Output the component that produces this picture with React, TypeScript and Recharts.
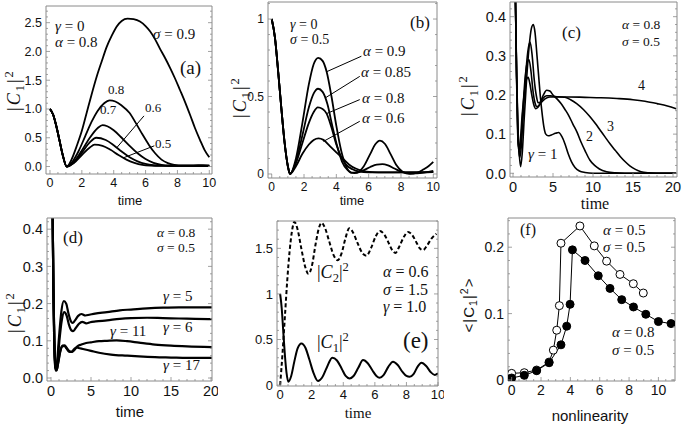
import React from "react";
import { LineChart, Line, XAxis, YAxis, ReferenceLine } from "recharts";

type Pt = [number, number];

// (a) gamma = 0, alpha = 0.8, sigma = 0.9 ... 0.5
const A_S09: Pt[] = [[0, 1], [0.2, 0.9], [0.4, 0.7], [0.6, 0.45], [0.8, 0.2], [1.05, 0], [1.35, 0.12], [1.67, 0.35], [2.0, 0.62], [2.3, 0.93], [2.6, 1.24], [2.93, 1.56], [3.25, 1.83], [3.56, 2.08], [3.87, 2.27], [4.18, 2.43], [4.5, 2.53], [4.87, 2.57], [5.25, 2.56], [5.65, 2.52], [6.0, 2.44], [6.28, 2.35], [6.6, 2.21], [6.9, 2.05], [7.2, 1.9], [7.53, 1.72], [7.85, 1.53], [8.16, 1.33], [8.48, 1.12], [8.79, 0.9], [9.1, 0.67], [9.42, 0.46], [9.7, 0.29], [10, 0.16]];
const A_S08: Pt[] = [[0, 1], [0.2, 0.9], [0.4, 0.7], [0.6, 0.45], [0.8, 0.2], [1.05, 0], [1.4, 0.08], [1.8, 0.27], [2.2, 0.52], [2.6, 0.77], [3.0, 0.97], [3.4, 1.1], [3.75, 1.15], [4.1, 1.13], [4.5, 1.06], [5.0, 0.93], [5.4, 0.75], [5.8, 0.56], [6.2, 0.38], [6.6, 0.23], [7.0, 0.12], [7.4, 0.06], [7.8, 0.03], [8.3, 0.02], [9.0, 0.02], [9.6, 0.025], [10, 0.02]];
const A_S07: Pt[] = [[0, 1], [0.2, 0.9], [0.4, 0.7], [0.6, 0.45], [0.8, 0.2], [1.05, 0], [1.5, 0.08], [2.0, 0.28], [2.5, 0.5], [3.0, 0.67], [3.3, 0.72], [3.6, 0.7], [4.0, 0.63], [4.5, 0.5], [5.0, 0.36], [5.5, 0.23], [6.0, 0.13], [6.5, 0.065], [7.0, 0.03], [7.5, 0.018], [8.5, 0.015], [10, 0.012]];
const A_S06: Pt[] = [[0, 1], [0.2, 0.9], [0.4, 0.7], [0.6, 0.45], [0.8, 0.2], [1.05, 0], [1.5, 0.07], [2.0, 0.24], [2.5, 0.42], [2.9, 0.5], [3.5, 0.46], [4.0, 0.37], [4.5, 0.26], [5.0, 0.16], [5.5, 0.09], [6.0, 0.045], [6.5, 0.022], [7.0, 0.014], [8.5, 0.01], [10, 0.01]];
const A_S05: Pt[] = [[0, 1], [0.2, 0.9], [0.4, 0.7], [0.6, 0.45], [0.8, 0.2], [1.05, 0], [1.5, 0.06], [2.0, 0.2], [2.5, 0.33], [2.8, 0.38], [3.3, 0.36], [3.8, 0.29], [4.3, 0.2], [4.8, 0.12], [5.3, 0.065], [5.8, 0.03], [6.3, 0.016], [7.0, 0.01], [10, 0.008]];
const A_LEADERS: [Pt, Pt][] = [[[5.9, 0.88], [4.2, 0.33]], [[6.55, 0.36], [4.6, 0.15]]];

// (b) gamma = 0, sigma = 0.5, alpha = 0.9 ... 0.6
const B_A09: Pt[] = [[0, 1], [0.2, 0.88], [0.4, 0.66], [0.6, 0.42], [0.8, 0.2], [1.0, 0.05], [1.13, 0], [1.5, 0.1], [1.9, 0.33], [2.3, 0.58], [2.6, 0.71], [2.88, 0.75], [3.15, 0.73], [3.4, 0.66], [3.7, 0.5], [4.0, 0.31], [4.3, 0.15], [4.6, 0.05], [4.9, 0.008], [5.3, 0.01], [5.7, 0.05], [6.1, 0.13], [6.4, 0.19], [6.7, 0.215], [7.0, 0.195], [7.35, 0.13], [7.7, 0.06], [8.1, 0.015], [8.55, 0], [9.0, 0.008], [9.4, 0.03], [9.7, 0.05], [10, 0.078]];
const B_A085: Pt[] = [[0, 1], [0.2, 0.88], [0.4, 0.66], [0.6, 0.42], [0.8, 0.2], [1.0, 0.05], [1.13, 0], [1.5, 0.08], [1.9, 0.25], [2.3, 0.43], [2.6, 0.52], [2.87, 0.55], [3.15, 0.53], [3.45, 0.45], [3.75, 0.31], [4.05, 0.18], [4.35, 0.08], [4.7, 0.025], [5.1, 0.005], [5.6, 0.02], [6.1, 0.045], [6.5, 0.06], [6.85, 0.063], [7.2, 0.055], [7.6, 0.035], [8.0, 0.015], [8.5, 0.004], [9.0, 0.004], [9.5, 0.01], [10, 0.02]];
const B_A08: Pt[] = [[0, 1], [0.2, 0.88], [0.4, 0.66], [0.6, 0.42], [0.8, 0.2], [1.0, 0.05], [1.13, 0], [1.5, 0.07], [1.9, 0.2], [2.3, 0.33], [2.6, 0.4], [2.85, 0.43], [3.15, 0.42], [3.4, 0.39], [3.7, 0.3], [4.0, 0.19], [4.3, 0.11], [4.6, 0.06], [5.0, 0.03], [5.4, 0.016], [6.0, 0.011], [7.5, 0.01], [10, 0.012]];
const B_A06: Pt[] = [[0, 1], [0.2, 0.88], [0.4, 0.66], [0.6, 0.42], [0.8, 0.2], [1.0, 0.05], [1.13, 0], [1.5, 0.05], [1.9, 0.13], [2.3, 0.19], [2.6, 0.22], [2.9, 0.23], [3.2, 0.22], [3.6, 0.18], [4.0, 0.14], [4.4, 0.1], [4.8, 0.06], [5.2, 0.035], [5.6, 0.02], [6.2, 0.012], [7.0, 0.01], [8.5, 0.01], [10, 0.012]];
const B_LEADERS: [Pt, Pt][] = [[[5.55, 0.76], [3.4, 0.66]], [[5.45, 0.63], [3.3, 0.49]], [[5.45, 0.48], [3.4, 0.39]], [[5.45, 0.34], [3.2, 0.21]]];

// (c) alpha = 0.8, sigma = 0.5, gamma = 1 ... 4
const C_G1: Pt[] = [[0, 1], [0.15, 0.72], [0.3, 0.45], [0.45, 0.26], [0.6, 0.13], [0.75, 0.06], [0.95, 0.017], [1.15, 0.05], [1.4, 0.14], [1.7, 0.24], [2.0, 0.32], [2.3, 0.37], [2.54, 0.38], [2.75, 0.36], [3.0, 0.3], [3.2, 0.25], [3.4, 0.2], [3.6, 0.16], [3.85, 0.12], [4.1, 0.1], [4.4, 0.096], [4.8, 0.098], [5.3, 0.102], [5.7, 0.104], [6.1, 0.094], [6.5, 0.075], [6.9, 0.05], [7.3, 0.03], [7.75, 0.015], [8.3, 0.006], [9.0, 0.002], [10, 0], [20.4, 0]];
const C_G2: Pt[] = [[0, 1], [0.15, 0.72], [0.3, 0.45], [0.45, 0.25], [0.6, 0.12], [0.72, 0.06], [0.85, 0.04], [1.0, 0.06], [1.25, 0.14], [1.55, 0.24], [1.85, 0.31], [2.13, 0.335], [2.4, 0.3], [2.65, 0.24], [2.9, 0.2], [3.15, 0.18], [3.4, 0.182], [3.8, 0.2], [4.2, 0.212], [4.6, 0.21], [5.0, 0.2], [5.5, 0.19], [6.0, 0.178], [6.5, 0.163], [6.9, 0.15], [7.5, 0.125], [8.0, 0.105], [8.5, 0.08], [9.0, 0.058], [9.6, 0.034], [10.2, 0.02], [10.8, 0.011], [11.7, 0.004], [12.8, 0.001], [14, 0], [20.4, 0]];
const C_G3: Pt[] = [[0, 1], [0.15, 0.72], [0.3, 0.45], [0.45, 0.25], [0.58, 0.12], [0.7, 0.065], [0.8, 0.055], [0.95, 0.07], [1.2, 0.15], [1.5, 0.24], [1.75, 0.28], [2.0, 0.29], [2.25, 0.26], [2.5, 0.21], [2.75, 0.18], [3.0, 0.17], [3.3, 0.175], [3.7, 0.19], [4.2, 0.198], [4.7, 0.198], [5.3, 0.196], [6.0, 0.195], [6.5, 0.194], [7.2, 0.188], [7.96, 0.178], [8.8, 0.163], [9.6, 0.145], [10.3, 0.127], [10.9, 0.11], [11.5, 0.093], [12.1, 0.076], [12.8, 0.058], [13.4, 0.043], [14.0, 0.03], [14.6, 0.019], [15.3, 0.01], [16.0, 0.004], [17, 0.001], [18, 0], [20.4, 0]];
const C_G4: Pt[] = [[0, 1], [0.15, 0.72], [0.3, 0.45], [0.45, 0.24], [0.56, 0.12], [0.65, 0.075], [0.75, 0.065], [0.9, 0.08], [1.15, 0.15], [1.45, 0.21], [1.7, 0.24], [1.9, 0.245], [2.1, 0.23], [2.35, 0.2], [2.6, 0.175], [2.85, 0.165], [3.1, 0.168], [3.5, 0.18], [4.0, 0.19], [4.6, 0.195], [5.5, 0.195], [7, 0.195], [9, 0.194], [11, 0.193], [13, 0.191], [15, 0.188], [16.5, 0.184], [18, 0.178], [19.3, 0.172], [20.4, 0.165]];

// (d) alpha = 0.8, sigma = 0.5, gamma = 5, 6, 11, 17
const D_G5: Pt[] = [[0, 1], [0.1, 0.72], [0.2, 0.45], [0.3, 0.24], [0.4, 0.1], [0.5, 0.035], [0.6, 0.02], [0.75, 0.04], [1.0, 0.11], [1.3, 0.18], [1.6, 0.207], [1.9, 0.2], [2.2, 0.172], [2.5, 0.152], [2.7, 0.148], [3.0, 0.155], [3.4, 0.167], [3.8, 0.172], [4.3, 0.168], [4.8, 0.17], [5.5, 0.173], [7, 0.177], [8.6, 0.182], [10, 0.184], [12, 0.187], [14, 0.189], [16, 0.19], [18, 0.19], [20.1, 0.19]];
const D_G6: Pt[] = [[0, 1], [0.1, 0.72], [0.2, 0.45], [0.3, 0.24], [0.4, 0.1], [0.5, 0.04], [0.62, 0.022], [0.8, 0.04], [1.05, 0.1], [1.35, 0.155], [1.65, 0.177], [1.95, 0.168], [2.25, 0.143], [2.55, 0.128], [2.75, 0.126], [3.05, 0.133], [3.5, 0.146], [3.9, 0.151], [4.4, 0.147], [4.9, 0.15], [5.6, 0.152], [7, 0.155], [8.6, 0.159], [10, 0.161], [12, 0.162], [14, 0.161], [16, 0.16], [18, 0.159], [20.1, 0.158]];
const D_G11: Pt[] = [[0, 1], [0.1, 0.72], [0.2, 0.45], [0.3, 0.24], [0.42, 0.1], [0.55, 0.035], [0.7, 0.02], [0.9, 0.04], [1.15, 0.07], [1.45, 0.087], [1.7, 0.088], [2.0, 0.08], [2.3, 0.072], [2.6, 0.07], [2.9, 0.075], [3.3, 0.085], [3.8, 0.09], [4.4, 0.094], [5, 0.096], [6, 0.099], [7, 0.1], [8.2, 0.101], [9.5, 0.099], [11, 0.095], [13, 0.09], [15, 0.087], [17, 0.085], [20.1, 0.083]];
const D_G17: Pt[] = [[0, 1], [0.1, 0.72], [0.2, 0.45], [0.3, 0.24], [0.42, 0.1], [0.55, 0.035], [0.72, 0.022], [0.92, 0.045], [1.15, 0.072], [1.4, 0.085], [1.65, 0.086], [1.95, 0.079], [2.25, 0.071], [2.55, 0.07], [2.9, 0.078], [3.2, 0.082], [3.6, 0.08], [4.0, 0.078], [5, 0.073], [6, 0.068], [7.5, 0.063], [9.5, 0.06], [11, 0.058], [13, 0.056], [15, 0.055], [17, 0.054], [20.1, 0.054]];

// (e) alpha = 0.6, sigma = 1.5, gamma = 1.0
const E_C1: Pt[] = [[0, 1], [0.1, 0.84], [0.2, 0.58], [0.3, 0.33], [0.4, 0.14], [0.52, 0.037], [0.7, 0.1], [0.9, 0.26], [1.1, 0.4], [1.35, 0.457], [1.6, 0.41], [1.85, 0.28], [2.1, 0.14], [2.4, 0.044], [2.65, 0.08], [2.95, 0.19], [3.3, 0.3], [3.6, 0.27], [3.9, 0.18], [4.15, 0.1], [4.4, 0.073], [4.65, 0.1], [4.95, 0.19], [5.25, 0.274], [5.55, 0.24], [5.85, 0.16], [6.1, 0.1], [6.3, 0.08], [6.55, 0.11], [6.85, 0.2], [7.15, 0.256], [7.45, 0.22], [7.75, 0.145], [8.0, 0.1], [8.2, 0.091], [8.45, 0.12], [8.7, 0.2], [8.95, 0.245], [9.25, 0.21], [9.55, 0.14], [9.8, 0.112], [10, 0.13]];
const E_C2: Pt[] = [[0, 0], [0.15, 0.35], [0.3, 0.75], [0.45, 1.15], [0.6, 1.47], [0.75, 1.69], [0.9, 1.79], [1.1, 1.71], [1.35, 1.49], [1.6, 1.29], [1.79, 1.22], [2.0, 1.3], [2.25, 1.55], [2.45, 1.72], [2.63, 1.78], [2.85, 1.72], [3.1, 1.58], [3.4, 1.42], [3.64, 1.37], [3.9, 1.45], [4.15, 1.62], [4.38, 1.72], [4.6, 1.68], [4.9, 1.56], [5.2, 1.45], [5.47, 1.42], [5.75, 1.5], [6.05, 1.63], [6.32, 1.69], [6.6, 1.65], [6.9, 1.55], [7.1, 1.48], [7.3, 1.45], [7.55, 1.52], [7.85, 1.63], [8.1, 1.68], [8.35, 1.65], [8.65, 1.56], [8.85, 1.5], [9.05, 1.48], [9.3, 1.53], [9.6, 1.61], [9.9, 1.66]];

// (f) time-averaged |C1|^2 vs nonlinearity
const F_OPEN: Pt[] = [[0, 0.01], [0.86, 0.011], [1.7, 0.015], [2.55, 0.027], [2.84, 0.045], [3.07, 0.075], [3.25, 0.112], [3.36, 0.206], [4.65, 0.232], [5.63, 0.202], [6.47, 0.179], [7.38, 0.159], [8.29, 0.145], [8.97, 0.131]];
const F_FILLED: Pt[] = [[0, 0.003], [0.86, 0.007], [1.7, 0.014], [2.55, 0.026], [3.36, 0.053], [3.75, 0.081], [3.98, 0.114], [4.14, 0.196], [5.0, 0.18], [5.9, 0.157], [6.7, 0.138], [7.5, 0.121], [8.3, 0.11], [9.14, 0.099], [10.0, 0.088], [10.86, 0.085]];

// tick labels
const X10 = [0, 2, 4, 6, 8, 10];
const X20 = [0, 5, 10, 15, 20];
const Y_A = [0, 0.5, 1, 1.5, 2, 2.5];
const Y_B = [0, 0.5, 1];
const Y_CD = [0, 0.1, 0.2, 0.3, 0.4];
const Y_E = [0, 0.5, 1, 1.5];
const Y_F = [0, 0.1, 0.2];

const FRAME = "#8a8a8a";
const INK = "#111";
const SERIF = "'Liberation Serif', 'DejaVu Serif', serif";
const SANS = "'Liberation Sans', Arial, sans-serif";

function minors(lo: number, hi: number, step: number, majors: number[]) {
  const out: number[] = [];
  for (let v = lo; v <= hi + 1e-9; v += step) {
    const r = Math.round(v * 1000) / 1000;
    if (!majors.some((m) => Math.abs(m - r) < 1e-6)) out.push(r);
  }
  return out;
}

type Side = "bottom" | "top" | "left" | "right";

function tickRenderer(side: Side, majors: number[], fmt: (v: number) => string, fs: number) {
  return function TickMark(props: any) {
    const { x, y, payload } = props;
    const v = payload.value as number;
    const major = majors.some((m) => Math.abs(m - v) < 1e-6);
    const len = major ? 4 : 2;
    let x2 = x;
    let y2 = y;
    if (side === "bottom") y2 = y - len;
    if (side === "top") y2 = y + len;
    if (side === "left") x2 = x + len;
    if (side === "right") x2 = x - len;
    return (
      <g>
        <line x1={x} y1={y} x2={x2} y2={y2} stroke={FRAME} strokeWidth={0.8} />
        {major && side === "bottom" && (
          <text x={x} y={y + 3 + fs * 0.8} textAnchor="middle" fontSize={fs} fontFamily={SANS} fill={INK}>
            {fmt(v)}
          </text>
        )}
        {major && side === "left" && (
          <text x={x - 4} y={y + fs * 0.36} textAnchor="end" fontSize={fs} fontFamily={SANS} fill={INK}>
            {fmt(v)}
          </text>
        )}
      </g>
    );
  };
}

type Curve = { pts: Pt[]; width?: number; dash?: string; dot?: "open" | "filled"; linear?: boolean };

type PanelProps = {
  frame: [number, number, number, number];
  xDomain: [number, number];
  yDomain: [number, number];
  xTicks: number[];
  xStep: number;
  yTicks: number[];
  yStep: number;
  yFmt: (v: number) => string;
  fs: number;
  curves: Curve[];
  leaders?: [Pt, Pt][];
};

const PAD_L = 40;
const PAD_R = 6;
const PAD_T = 6;
const PAD_B = 30;

function Panel(p: PanelProps) {
  const [x0, y0, x1, y1] = p.frame;
  const xAll = [...p.xTicks, ...minors(Math.ceil(p.xDomain[0]), p.xDomain[1], p.xStep, p.xTicks).filter((v) => v >= p.xDomain[0] && v <= p.xDomain[1])];
  const yAll = [...p.yTicks, ...minors(0, p.yDomain[1], p.yStep, p.yTicks)];
  const xFmt = (v: number) => String(v);
  return (
    <div style={{ position: "absolute", left: x0 - PAD_L, top: y0 - PAD_T }}>
      <LineChart width={x1 - x0 + PAD_L + PAD_R} height={y1 - y0 + PAD_T + PAD_B} margin={{ top: 0, right: 0, bottom: 0, left: 0 }}>
        <XAxis xAxisId={0} dataKey="x" type="number" domain={p.xDomain} allowDataOverflow ticks={xAll} interval={0}
          tickSize={0} tickMargin={0} height={PAD_B} axisLine={{ stroke: FRAME }} tick={tickRenderer("bottom", p.xTicks, xFmt, p.fs)} />
        <XAxis xAxisId="top" orientation="top" type="number" domain={p.xDomain} allowDataOverflow ticks={xAll} interval={0}
          tickSize={0} tickMargin={0} height={PAD_T} axisLine={{ stroke: FRAME }} tick={tickRenderer("top", p.xTicks, xFmt, p.fs)} />
        <YAxis yAxisId={0} type="number" domain={p.yDomain} allowDataOverflow ticks={yAll} interval={0}
          tickSize={0} tickMargin={0} width={PAD_L} axisLine={{ stroke: FRAME }} tick={tickRenderer("left", p.yTicks, p.yFmt, p.fs)} />
        <YAxis yAxisId="right" orientation="right" type="number" domain={p.yDomain} allowDataOverflow ticks={yAll} interval={0}
          tickSize={0} tickMargin={0} width={PAD_R} axisLine={{ stroke: FRAME }} tick={tickRenderer("right", p.yTicks, p.yFmt, p.fs)} />
        {p.curves.map((c, i) => (
          <Line
            key={i}
            data={c.pts.map(([x, y]) => ({ x, y }))}
            dataKey="y"
            type={c.linear ? "linear" : "monotone"}
            stroke="#000"
            strokeWidth={c.width ?? 1.8}
            strokeDasharray={c.dash}
            dot={
              c.dot === "open"
                ? { r: 4, fill: "#fff", stroke: "#000", strokeWidth: 1 }
                : c.dot === "filled"
                ? { r: 4, fill: "#000", stroke: "#000", strokeWidth: 1 }
                : false
            }
            activeDot={false}
            isAnimationActive={false}
          />
        ))}
        {(p.leaders || []).map(([a, b], i) => (
          <ReferenceLine key={"l" + i} segment={[{ x: a[0], y: a[1] }, { x: b[0], y: b[1] }]} stroke="#000" strokeWidth={1} />
        ))}
      </LineChart>
    </div>
  );
}

// text whose cap-height centre sits at y
function T({ x, y, size = 15, font = SERIF, center = false, children }: any) {
  return (
    <div
      style={{
        position: "absolute",
        left: x,
        top: y - size * 0.51,
        fontSize: size,
        fontFamily: font,
        lineHeight: 1,
        whiteSpace: "nowrap",
        color: INK,
        transform: center ? "translateX(-50%)" : undefined,
      }}
    >
      {children}
    </div>
  );
}

function V({ x, y, size = 18, font = SERIF, spacing = 2, children }: any) {
  return (
    <div
      style={{
        position: "absolute",
        left: x,
        top: y,
        fontSize: size,
        fontFamily: font,
        lineHeight: 1,
        whiteSpace: "nowrap",
        color: INK,
        letterSpacing: spacing,
        transform: "translate(-50%,-50%) rotate(-90deg)",
      }}
    >
      {children}
    </div>
  );
}

const Sub = ({ children }: any) => <span style={{ fontSize: "0.7em", position: "relative", top: "0.3em" }}>{children}</span>;
const Sup = ({ children }: any) => <span style={{ fontSize: "0.7em", position: "relative", top: "-0.55em" }}>{children}</span>;

function Abs({ n, italic = true }: { n: number; italic?: boolean }) {
  return (
    <span>
      |{italic ? <i>C</i> : "C"}
      <Sub>{n}</Sub>|<Sup>2</Sup>
    </span>
  );
}

function Eq({ s, v }: { s: string; v: string }) {
  return (
    <span>
      <i>{s}</i> = {v}
    </span>
  );
}

export default function App() {
  const f1 = (v: number) => v.toFixed(1);
  const f0 = (v: number) => String(v);
  return (
    <div style={{ position: "absolute", left: 0, top: 0, width: 685, height: 429, background: "#fff", overflow: "hidden" }}>
      <Panel frame={[46, 6, 212, 174]} xDomain={[-0.25, 10.17]} yDomain={[-0.13, 2.79]} xTicks={X10} xStep={0.5}
        yTicks={Y_A} yStep={0.1} yFmt={f1} fs={12.5}
        curves={[{ pts: A_S09 }, { pts: A_S08 }, { pts: A_S07 }, { pts: A_S06 }, { pts: A_S05 }]} leaders={A_LEADERS} />
      <Panel frame={[268, 2, 437, 178]} xDomain={[-0.23, 10.23]} yDomain={[-0.026, 1.11]} xTicks={X10} xStep={0.5}
        yTicks={Y_B} yStep={0.1} yFmt={f0} fs={12}
        curves={[{ pts: B_A09 }, { pts: B_A085 }, { pts: B_A08 }, { pts: B_A06 }]} leaders={B_LEADERS} />
      <Panel frame={[510, 2, 677, 177]} xDomain={[-0.375, 20.5]} yDomain={[-0.0095, 0.4375]} xTicks={X20} xStep={1}
        yTicks={Y_CD} yStep={0.02} yFmt={f1} fs={14.5}
        curves={[{ pts: C_G1, width: 1.6 }, { pts: C_G2, width: 1.6 }, { pts: C_G3, width: 1.6 }, { pts: C_G4, width: 1.6 }]} />
      <Panel frame={[47, 218, 212, 381]} xDomain={[-0.5, 20.125]} yDomain={[-0.008, 0.43]} xTicks={X20} xStep={1}
        yTicks={Y_CD} yStep={0.02} yFmt={f1} fs={14.5}
        curves={[{ pts: D_G5, width: 2.2 }, { pts: D_G6, width: 2.2 }, { pts: D_G11, width: 2.2 }, { pts: D_G17, width: 2.2 }]} />
      <Panel frame={[277, 221, 438, 386]} xDomain={[-0.2, 10]} yDomain={[-0.01, 1.8]} xTicks={X10} xStep={0.5}
        yTicks={Y_E} yStep={0.1} yFmt={f0} fs={13}
        curves={[{ pts: E_C2, width: 2, dash: "4 2.5" }, { pts: E_C1, width: 2 }]} />
      <Panel frame={[508, 218, 675, 381]} xDomain={[-0.25, 11.13]} yDomain={[-0.0015, 0.244]} xTicks={X10} xStep={0.5}
        yTicks={Y_F} yStep={0.02} yFmt={f0} fs={14}
        curves={[{ pts: F_OPEN, width: 1, dot: "open", linear: true }, { pts: F_FILLED, width: 1, dot: "filled", linear: true }]} />

      {/* (a) */}
      <V x={14} y={90}><Abs n={1} /></V>
      <T x={130} y={201} size={13} font={SANS} center>time</T>
      <T x={55} y={27}><Eq s="γ" v="0" /></T>
      <T x={55} y={43}><Eq s="α" v="0.8" /></T>
      <T x={153} y={35}><Eq s="σ" v="0.9" /></T>
      <T x={180} y={68} size={19}>(a)</T>
      <T x={108} y={90} size={13}>0.8</T>
      <T x={100} y={110} size={13}>0.7</T>
      <T x={145} y={108} size={13}>0.6</T>
      <T x={155} y={144} size={13}>0.5</T>

      {/* (b) */}
      <V x={240} y={97}><Abs n={1} /></V>
      <T x={352} y={201} size={13} font={SANS} center>time</T>
      <T x={290} y={25} size={14}><Eq s="γ" v="0" /></T>
      <T x={290} y={40} size={14}><Eq s="σ" v="0.5" /></T>
      <T x={410} y={23} size={17}>(b)</T>
      <T x={363} y={52}><Eq s="α" v="0.9" /></T>
      <T x={361} y={73}><Eq s="α" v="0.85" /></T>
      <T x={362} y={99}><Eq s="α" v="0.8" /></T>
      <T x={362} y={119}><Eq s="α" v="0.6" /></T>

      {/* (c) */}
      <V x={468} y={95}><Abs n={1} /></V>
      <T x={595} y={204} size={16} center>time</T>
      <T x={562} y={33} size={17}>(c)</T>
      <T x={622} y={25} size={13.5}><Eq s="α" v="0.8" /></T>
      <T x={622} y={42} size={13.5}><Eq s="σ" v="0.5" /></T>
      <T x={638} y={86} size={14}>4</T>
      <T x={607} y={127} size={14}>3</T>
      <T x={586} y={137} size={14}>2</T>
      <T x={528} y={155}><Eq s="γ" v="1" /></T>

      {/* (d) */}
      <V x={15} y={312}><Abs n={1} /></V>
      <T x={130} y={412} size={15} font={SANS} center>time</T>
      <T x={63} y={238} size={17}>(d)</T>
      <T x={157} y={233} size={13.5}><Eq s="α" v="0.8" /></T>
      <T x={157} y={248} size={13.5}><Eq s="σ" v="0.5" /></T>
      <T x={163} y={297}><Eq s="γ" v="5" /></T>
      <T x={163} y={328}><Eq s="γ" v="6" /></T>
      <T x={110} y={332}><Eq s="γ" v="11" /></T>
      <T x={163} y={366}><Eq s="γ" v="17" /></T>

      {/* (e) */}
      <T x={358} y={414} size={15} center>time</T>
      <T x={317} y={272} size={18}><Abs n={2} /></T>
      <T x={383} y={272} size={16}><Eq s="α" v="0.6" /></T>
      <T x={383} y={290} size={16}><Eq s="σ" v="1.5" /></T>
      <T x={383} y={307} size={16}><Eq s="γ" v="1.0" /></T>
      <T x={317} y={342} size={18}><Abs n={1} /></T>
      <T x={403} y={341} size={23}>(e)</T>

      {/* (f) */}
      <V x={468} y={305} size={15} font={SANS} spacing={1}>
        &lt;<Abs n={1} italic={false} />&gt;
      </V>
      <T x={590} y={416} size={15} font={SANS} center>nonlinearity</T>
      <T x={520} y={230} size={16}>(f)</T>
      <T x={603} y={231}><Eq s="α" v="0.5" /></T>
      <T x={603} y={248}><Eq s="σ" v="0.5" /></T>
      <T x={612} y={333}><Eq s="α" v="0.8" /></T>
      <T x={612} y={351}><Eq s="σ" v="0.5" /></T>
    </div>
  );
}
